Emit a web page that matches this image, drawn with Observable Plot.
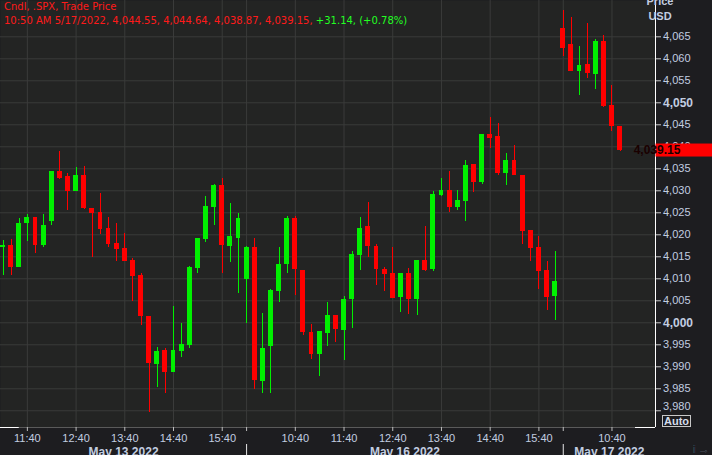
<!DOCTYPE html>
<html><head><meta charset="utf-8">
<script src="https://cdn.jsdelivr.net/npm/d3@7"></script>
<script src="https://cdn.jsdelivr.net/npm/@observablehq/plot@0.6"></script>
<style>
html,body{margin:0;padding:0;background:#1d1d20;}
#wrap{position:relative;width:712px;height:455px;overflow:hidden;}
#title{position:absolute;left:4px;top:0px;font-family:"DejaVu Sans",sans-serif;font-size:10px;line-height:14px;color:#ff1a1a;pointer-events:none;white-space:nowrap;}
#title .up{color:#22ff22;}
</style></head><body>
<div id="wrap"><div id="chart"></div>
<div id="title"><div>Cndl, .SPX, Trade Price</div><div>10:50 AM 5/17/2022, 4,044.55, 4,044.64, 4,038.87, 4,039.15, <span class="up">+31.14, (+0.78%)</span></div></div>
</div>
<script>
// 10-minute candles: May 13 (11:10-16:00), May 16 (9:40-16:00), May 17 (9:40-10:50)
const open = [4017.0,4017.6,4012.6,4022.6,4023.9,4017.6,4023.0,4034.4,4033.2,4029.9,
4033.5,4026.0,4025.1,4021.4,4018.0,4016.9,4014.2,4010.75,4001.4,3990.5,
3993.7,3988.6,3993.5,3994.9,4012.4,4018.9,4026.3,4031.3,4017.4,4019.2,
4009.8,4017.2,3986.7,3994.5,4007.1,4013.3,4023.7,4011.9,3997.8,3992.7,
3997.6,4001.7,3998.3,4005.2,4015.3,4021.9,4017.3,4012.1,4011.2,4005.8,
4011.2,4005.2,4014.2,4012.1,4029.0,4030.1,4026.3,4027.6,4036.0,4031.9,
4042.8,4042.3,4033.9,4036.9,4033.5,4021.0,4017.1,4011.9,4006.0,
4066.9,4063.3,4057.0,4058.7,4056.5,4063.9,4049.4,4044.55];
const high = [4018.7,4018.9,4023.7,4024.6,4023.9,4024.6,4034.4,4038.9,4033.9,4035.4,
4035.6,4026.0,4029.3,4023.9,4022.6,4020.4,4014.5,4011.1,4001.4,3994.3,
3994.2,4003.8,3999.8,4012.8,4019.2,4028.7,4031.5,4032.9,4027.0,4024.9,
4017.3,4019.2,4002.1,4007.6,4017.1,4024.2,4024.2,4011.9,3999.6,3998.0,
4004.5,4001.7,4006.0,4016.3,4023.9,4027.4,4017.7,4012.6,4017.1,4011.2,
4012.4,4014.2,4021.9,4029.8,4032.8,4034.4,4030.1,4036.9,4036.0,4042.8,
4046.6,4045.2,4038.5,4040.3,4033.5,4021.0,4019.6,4013.9,4016.2,
4071.0,4069.3,4062.8,4068.0,4064.4,4065.3,4053.9,4044.64];
const low = [4010.8,4010.8,4012.6,4018.5,4015.7,4017.2,4022.1,4032.6,4025.5,4029.9,
4025.7,4014.9,4020.1,4017.0,4013.9,4013.9,4004.8,3999.4,3979.7,3985.4,
3983.9,3988.6,3992.0,3994.2,4011.1,4018.3,4022.1,4011.1,4013.8,4006.6,
3999.8,3984.8,3984.0,3984.0,4004.5,4011.3,4006.1,3997.1,3991.7,3987.9,
3994.7,3995.6,3991.4,3998.7,4011.9,4014.9,4008.5,4007.0,4005.6,4002.3,
4001.9,4001.7,4011.7,4011.7,4028.7,4025.1,4025.5,4023.1,4029.6,4031.4,
4039.7,4033.5,4031.2,4033.5,4017.8,4014.0,4007.6,4002.8,4000.5,
4060.5,4057.0,4051.7,4055.6,4053.0,4048.9,4043.5,4038.87];
const close = [4017.5,4012.6,4022.6,4023.9,4017.6,4022.1,4034.4,4032.9,4029.9,4033.5,
4026.0,4024.8,4021.2,4017.9,4016.7,4013.9,4010.6,4001.5,3990.8,3993.5,
3988.6,3993.7,3995.1,4012.6,4019.2,4026.4,4031.3,4017.6,4019.6,4023.7,
4017.0,3986.9,3994.2,4007.4,4013.3,4023.7,4012.0,3997.9,3992.7,3998.0,
4001.7,3998.5,4005.3,4015.5,4021.4,4017.3,4012.0,4011.0,4005.6,4011.2,
4005.4,4014.2,4011.9,4029.2,4030.1,4026.3,4027.8,4035.8,4031.9,4042.8,
4041.95,4033.9,4036.9,4033.5,4020.75,4016.9,4011.65,4005.7,4009.4,
4062.3,4057.0,4058.5,4056.7,4063.9,4049.15,4044.5,4039.15];

// x axis: candle index of each hourly tick and its label
const xTickIdx = [3,9,15,21,27,36,42,48,54,60,66,75];
const xTickLabels = ["11:40","12:40","13:40","14:40","15:40","10:40","11:40","12:40","13:40","14:40","15:40","10:40"];
const daySeparators = [30, 69];
const dayLabels = ["May 13 2022","May 16 2022","May 17 2022"];
const yTicks = [3980,3985,3990,3995,4000,4005,4010,4015,4020,4025,4030,4035,4040,4045,4050,4055,4060,4065];
const boldTicks = [4000,4050];
const lowTick = [3980];

const data = open.map((o,i)=>({i, open:o, high:high[i], low:low[i], close:close[i]}));
const UP = "#00f000", DOWN = "#ff0000";
const col = d => d.close >= d.open ? UP : DOWN;
const fmt = d3.format(",");
const labelMap = new Map(xTickIdx.map((d,i)=>[d, xTickLabels[i]]));
const xDomain = [-0.308, 80.36];
const yDomain = [3976.2, 4073.25];
const mids = [(xDomain[0]+daySeparators[0])/2, (daySeparators[0]+daySeparators[1])/2, (daySeparators[1]+xDomain[1])/2];
const axisFont = "'Liberation Sans', Arial, sans-serif";
const txt = "#c2cde0";
const grid = "#3a3b3a";
const normalTicks = yTicks.filter(d => !boldTicks.includes(d) && !lowTick.includes(d));

const chart = Plot.plot({
  width: 712, height: 455,
  marginLeft: 0, marginRight: 57, marginTop: 0, marginBottom: 28,
  style: {background: "#1d1d20", fontFamily: axisFont, fontSize: "11px"},
  x: {domain: xDomain, axis: null},
  y: {domain: yDomain, axis: null},
  color: {type: "identity"},
  marks: [
    Plot.frame({fill: "#232423", stroke: null}),
    Plot.ruleY(yTicks, {stroke: grid}),
    Plot.ruleX(xTickIdx.concat(daySeparators), {stroke: grid}),
    Plot.ruleX(data, {x: "i", y1: "low", y2: "high", stroke: col, strokeWidth: 1, shapeRendering: "crispEdges"}),
    Plot.rect(data, {x1: d => d.i - 0.3, x2: d => d.i + 0.3, y1: "open", y2: "close", fill: col, shapeRendering: "crispEdges"}),
    Plot.ruleY([yDomain[0]], {stroke: "#5a5a5a"}),
    Plot.ruleY([yDomain[0]], {x1: xDomain[0], x2: 2.0, stroke: "#ffffff"}),
    Plot.ruleY([yDomain[0]], {x1: 77.9, x2: xDomain[1], stroke: "#ffffff"}),
    Plot.ruleX([xDomain[1]], {stroke: "#ffffff"}),
    Plot.axisY(yTicks, {anchor: "right", tickSize: 5, text: null, stroke: "#c8c8c8"}),
    Plot.text(normalTicks, {y: d => d, text: d => fmt(d), frameAnchor: "right", textAnchor: "start", dx: 7.5, fill: txt, fontSize: 11}),
    Plot.text(boldTicks, {y: d => d, text: d => fmt(d), frameAnchor: "right", textAnchor: "start", dx: 7.5, fill: txt, fontSize: 12, fontWeight: "bold"}),
    Plot.text(lowTick, {y: d => d, text: d => fmt(d), frameAnchor: "right", textAnchor: "start", dx: 7.5, dy: -4, fill: txt, fontSize: 11}),
    Plot.axisX(daySeparators, {anchor: "bottom", tickSize: 4, text: null, stroke: "#bdbdbd"}),
    Plot.axisX(xTickIdx, {anchor: "bottom", tickSize: 4, tickPadding: 3, tickFormat: d => labelMap.get(d), stroke: "#bdbdbd", fill: txt, fontSize: 11}),
    Plot.axisX(daySeparators, {anchor: "bottom", tickSize: 12, text: null, dy: 17, stroke: "#e6e6e6"}),
    Plot.text(dayLabels, {x: (d, i) => mids[i], frameAnchor: "bottom", lineAnchor: "middle", dy: 24.5, fontWeight: "bold", fontSize: 12, fill: txt})
  ]
});
document.getElementById("chart").appendChild(chart);

// Price label box, header and Auto button, positioned from Plot's own scales
const svg = d3.select(chart);
const xs = chart.scale("x"), ys = chart.scale("y");
const right = xs.range[1];
const last = data[data.length - 1];
const yp = ys.apply(last.close);
svg.append("rect").attr("x", right + 0.5).attr("y", yp - 6.5).attr("width", 712 - right).attr("height", 13).attr("fill", "#ff0000");
svg.append("text").attr("x", right + 2).attr("y", yp).attr("dy", "0.35em")
  .attr("font-family", axisFont).attr("font-size", 12).attr("font-weight", "bold").attr("fill", "#1a0000").text(d3.format(",.2f")(last.close));
svg.append("text").attr("x", right + 5).attr("y", 5).attr("font-family", axisFont).attr("font-size", 11).attr("font-weight", "bold").attr("fill", txt).text("Price");
svg.append("text").attr("x", right + 5).attr("y", 20).attr("font-family", axisFont).attr("font-size", 11).attr("font-weight", "bold").attr("fill", txt).text("USD");
const yb = ys.range[0];
svg.append("rect").attr("x", right + 7.5).attr("y", yb - 11.5).attr("width", 28).attr("height", 11).attr("fill", "none").attr("stroke", "#c8c8c8");
svg.append("text").attr("x", right + 21.5).attr("y", yb - 2).attr("text-anchor", "middle").attr("font-family", axisFont).attr("font-size", 11).attr("font-weight", "bold").attr("fill", "#d4dcea").text("Auto");
</script>
</body></html>
